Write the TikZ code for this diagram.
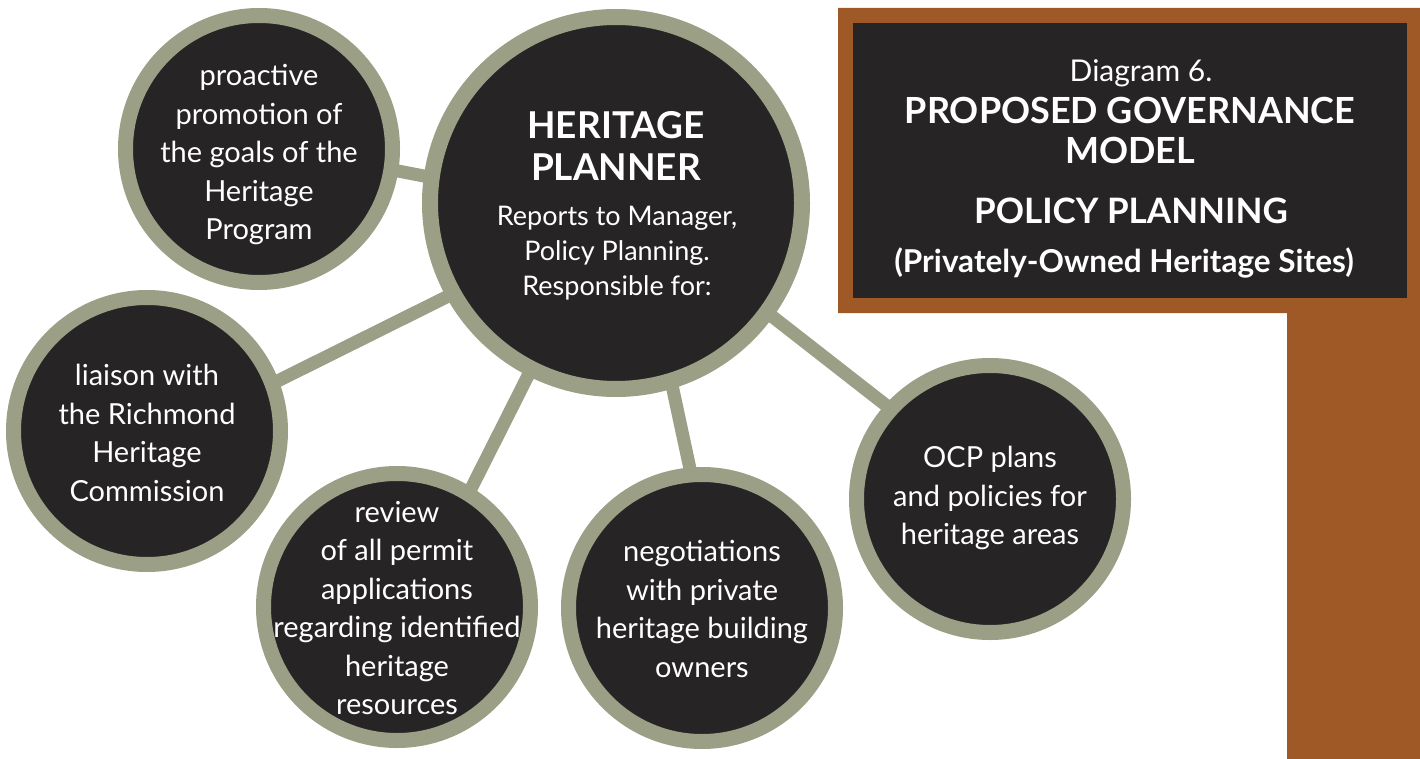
\documentclass[tikz,border=0pt]{standalone}
\usepackage{fontspec}
\setmainfont{Lato}
\usetikzlibrary{backgrounds}
\definecolor{rim}{RGB}{154,159,133}
\definecolor{disc}{RGB}{38,36,37}
\definecolor{rust}{RGB}{158,89,38}
\begin{document}
\begin{tikzpicture}[x=1pt,y=-1pt,
  circ/.style={circle,fill=disc,draw=rim,line width=15pt,inner sep=0pt,minimum size=267pt},
  hub/.style={circle,fill=disc,draw=rim,line width=16pt,inner sep=0pt,minimum size=372pt},
  txt/.style={text=white,align=center,font=\fontsize{29}{38.5}\selectfont,inner sep=0pt},
  hubhead/.style={text=white,align=center,font=\bfseries\fontsize{37}{42}\selectfont,inner sep=0pt},
  hubbody/.style={text=white,align=center,font=\fontsize{27}{35}\selectfont,inner sep=0pt},
  ttl/.style={text=white,anchor=base,inner sep=0pt,font=\bfseries\fontsize{36}{40}\selectfont},
  link/.style={draw=rim,line width=13pt,shorten <=-12pt,shorten >=-12pt}]
\useasboundingbox (0,0) rectangle (1420,759);
% title panel
\fill[rust] (838,8) -- (1420,8) -- (1420,759) -- (1287,759) -- (1287,313) -- (838,313) -- cycle;
\fill[disc] (853,23) rectangle (1407,298);
\node[ttl,font=\fontsize{30}{34}\selectfont] (t1) at (1141,82) {Diagram 6.};
\node[ttl] (t2) at (1130,124) {PROPOSED GOVERNANCE};
\node[ttl] (t3) at (1130,164) {MODEL};
\node[ttl,font=\bfseries\fontsize{35}{40}\selectfont] (t4) at (1131,224) {POLICY PLANNING};
\node[ttl,font=\bfseries\fontsize{31.5}{36}\selectfont] (t5) at (1124,272) {(Privately-Owned Heritage Sites)};
% circles
\node[hub] (hp) at (616,203) {};
\node[circ] (pro) at (259,149) {};
\node[circ] (lia) at (147,431) {};
\node[circ] (rev) at (397,607) {};
\node[circ] (neg) at (702,608) {};
\node[circ] (ocp) at (990,499) {};
% texts
\node[hubhead] (hpt) at (616,146) {HERITAGE\\PLANNER};
\node[hubbody] (hpb) at (617,253) {Reports to Manager,\\Policy Planning.\\Responsible for:};
\node[txt] (tpro) at (259,155) {proactive\\promotion of\\the goals of the\\Heritage\\Program};
\node[txt] (tlia) at (147,433) {liaison with\\the Richmond\\Heritage\\Commission};
\node[txt] (trev) at (397,608) {review\\of all permit\\applications\\regarding identified\\heritage\\resources};
\node[txt] (tneg) at (702,609) {negotiations\\with private\\heritage building\\owners};
\node[txt] (tocp) at (990,498) {OCP plans\\and policies for\\heritage areas};
% connectors
\begin{pgfonlayer}{background}
\fill[white] (0,0) rectangle (1420,759);
\draw[link] (pro.-9.5) -- (hp.172.5);
\draw[link] (lia.21) -- (hp.209.5);
\draw[link] (rev.58) -- (hp.243.4);
\draw[link] (neg.95) -- (hp.287.5);
\draw[link] (ocp.138.2) -- (hp.324.8);
\end{pgfonlayer}
\end{tikzpicture}
\end{document}
